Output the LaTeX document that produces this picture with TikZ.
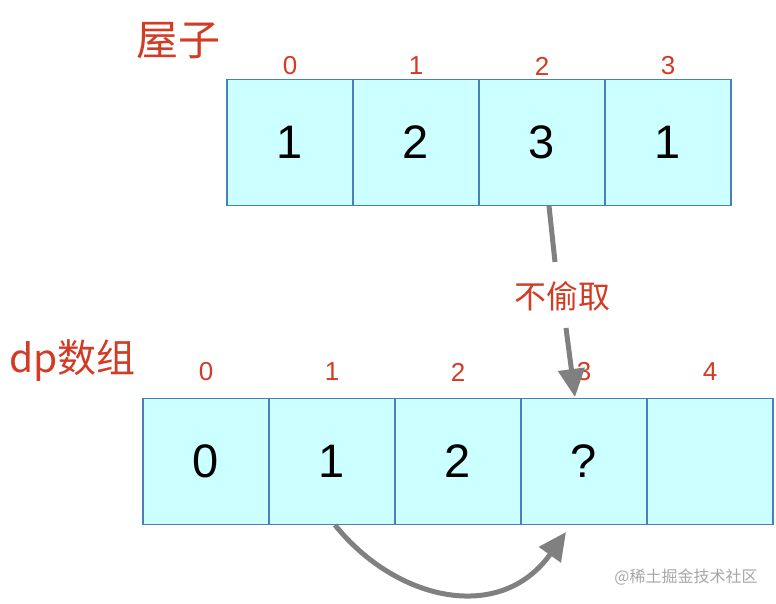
\documentclass[tikz,border=0pt]{standalone}
\usepackage{fontspec}
\setmainfont{Liberation Sans}
\newfontfamily\cjk{Noto Sans CJK SC}
\usetikzlibrary{arrows.meta}
\definecolor{cellfill}{HTML}{CCFFFF}
\definecolor{cellline}{HTML}{4A7EBF}
\definecolor{redtxt}{HTML}{D23B24}
\definecolor{arrgray}{HTML}{808080}
\begin{document}
\begin{tikzpicture}[x=1pt,y=-1pt,
  cell/.style={draw=cellline,line width=1.5pt,fill=cellfill,minimum width=126pt,minimum height=126pt,inner sep=0pt,font=\fontsize{47}{47}\selectfont},
  idx/.style={text=redtxt,font=\fontsize{26}{26}\selectfont,inner sep=0pt},
  title/.style={text=redtxt,font=\cjk\fontsize{42}{42}\selectfont,inner sep=0pt},
  gline/.style={draw=arrgray,line width=5pt},
  garrow/.style={gline,-{Triangle[length=28pt,width=26pt]}}]
\useasboundingbox (0,0) rectangle (776,604);
% top row
\foreach \v [count=\i from 0] in {1,2,3,1}{
  \node[cell] (h\i) at (290+126*\i,142.5) {\v};
  \node[idx] (hi\i) at (290+126*\i,66) {\i};
}
\node[title,anchor=west] (t1) at (136,41) {屋子};
% bottom row
\foreach \v [count=\i from 0] in {0,1,2,?,{}}{
  \node[cell] (d\i) at (206+126*\i,461.5) {\v};
  \node[idx] (di\i) at (206+126*\i,372) {\i};
}
\node[title,anchor=west,font=\cjk\fontsize{39}{39}\selectfont] (t2) at (9,361) {dp\cjk 数组};
% arrows
\coordinate (a1s) at (549,206);
\coordinate (a1m) at (555,262);
\coordinate (a1n) at (566,328);
\coordinate (a1e) at (575,397);
\node[text=redtxt,font=\cjk\fontsize{32}{32}\selectfont,inner sep=0pt] (lbl) at (562,296) {不偷取};
\draw[gline] (a1s) -- (a1m);
\draw[garrow] (a1n) -- (a1e);
\coordinate (c1s) at (335,525);
\coordinate (c1e) at (566,532);
\draw[garrow] (c1s) .. controls (395,600) and (500,625) .. (c1e);
\node[text=gray!70,font=\cjk\fontsize{16}{16}\selectfont,inner sep=0pt] (wm) at (686,577) {@稀土掘金技术社区};
\end{tikzpicture}
\end{document}
